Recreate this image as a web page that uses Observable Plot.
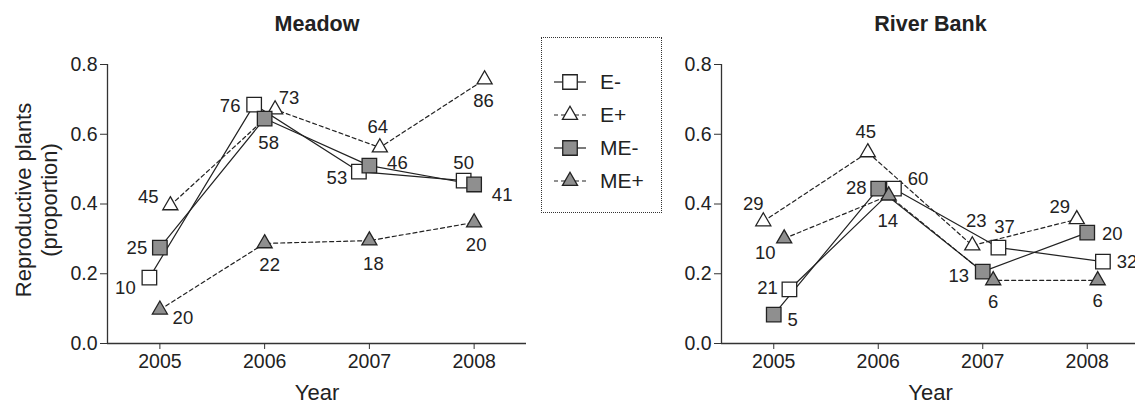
<!DOCTYPE html>
<html><head><meta charset="utf-8">
<script src="https://cdn.jsdelivr.net/npm/d3@7"></script>
<script src="https://cdn.jsdelivr.net/npm/@observablehq/plot@0.6"></script>
<style>
html,body{margin:0;padding:0;background:#fff;overflow:hidden;width:1135px;height:404px}
#wrap{position:relative;width:1135px;height:404px;font-family:"Liberation Sans",Arial,Helvetica,sans-serif;color:#222}
#wrap > svg{position:absolute;top:0;margin:0;max-width:none}
#legend{position:absolute;left:541px;top:37px;width:119px;height:174px;border:1.5px dotted #333;box-sizing:content-box}
.lrow{position:absolute;left:12px;height:24px;display:flex;align-items:center;font-size:21px}
.lrow svg{margin-right:14px}
</style></head><body><div id="wrap"><div id="legend"></div></div>
<script>
// ---- data ----
const years = [2005, 2006, 2007, 2008];
const series = ["E-", "E+", "ME-", "ME+"];
const yTicks = [0, 0.2, 0.4, 0.6, 0.8];
const xDomain = [2004.5, 2008.5];

// Meadow proportions
const meadowEminus  = [0.189, 0.685, 0.493, 0.467];
const meadowEplus   = [0.396, 0.671, 0.562, 0.757];
const meadowMEminus = [0.275, 0.645, 0.510, 0.456];
const meadowMEplus  = [0.097, 0.287, 0.295, 0.347];
// Meadow sample sizes (labels)
const meadowNEminus  = [10, 76, 53, 50];
const meadowNEplus   = [45, 73, 64, 86];
const meadowNMEminus = [25, 58, 46, 41];
const meadowNMEplus  = [20, 22, 18, 20];

// River Bank proportions
const riverEminus  = [0.155, 0.444, 0.275, 0.235];
const riverEplus   = [0.350, 0.548, 0.281, 0.356];
const riverMEminus = [0.083, 0.444, 0.206, 0.318];
const riverMEplus  = [0.301, 0.424, 0.181, 0.181];
// River Bank sample sizes (labels)
const riverNEminus  = [21, 60, 37, 32];
const riverNEplus   = [29, 45, 23, 29];
const riverNMEminus = [5, 28, 13, 20];
const riverNMEplus  = [10, 14, 6, 6];

// ---- layout / style (not data) ----
const meadowJitter = {"E-": -0.1, "E+": 0.1, "ME-": 0, "ME+": 0};
const riverJitter  = {"E-": 0.15, "E+": -0.1, "ME-": 0, "ME+": 0.1};
const meadowLabelOffsets = {
  "E-":  [[-24, 10], [-24, 1], [-22, 7], [0, -18]],
  "E+":  [[-22, -8], [14, -11], [-2, -20], [-1, 22]],
  "ME-": [[-23, 0], [4, 25], [28, -3], [28, 11]],
  "ME+": [[23, 8], [5, 22], [4, 23], [2, 23]]
};
const riverLabelOffsets = {
  "E-":  [[-22, -1], [24, -10], [6, -21], [24, 1]],
  "E+":  [[-10, -17], [-2, -20], [4, -24], [-17, -12]],
  "ME-": [[19, 6], [-22, -1], [-24, 4], [25, 1]],
  "ME+": [[-19, 15], [-1, 25], [0, 22], [0, 21]]
};
const styles = {
  "E-":  {symbol: "square",   fill: "#ffffff", dash: null},
  "E+":  {symbol: "triangle", fill: "#ffffff", dash: "4,3"},
  "ME-": {symbol: "square",   fill: "#8f8f8f", dash: null},
  "ME+": {symbol: "triangle", fill: "#8f8f8f", dash: "4,3"}
};
const FONT = '"Liberation Sans", Arial, Helvetica, sans-serif';
const INK = "#222";

function buildRows(vals, ns, jitter) {
  const rows = [];
  series.forEach((s, si) => {
    years.forEach((yr, i) => {
      rows.push({series: s, year: yr, x: yr + jitter[s], v: vals[si][i], n: ns[si][i], i});
    });
  });
  return rows;
}

function panel({title, rows, offsets, width, marginLeft, marginRight, yLabel}) {
  const marks = [];
  // axes
  marks.push(Plot.ruleY([0], {stroke: "#333", strokeWidth: 1.3}));
  marks.push(Plot.ruleX([xDomain[0]], {y1: yTicks[0], y2: yTicks[yTicks.length - 1], stroke: "#333", strokeWidth: 1.3}));
  marks.push(Plot.axisY({ticks: yTicks, tickFormat: d3.format(".1f"), tickSize: 7, tickPadding: 3, label: null, fontSize: 19.5, stroke: "#333"}));
  marks.push(Plot.axisX({ticks: years, tickFormat: d => String(d), tickSize: 6, tickPadding: 5, label: null, fontSize: 19.5, stroke: "#333"}));
  // lines
  for (const s of series) {
    marks.push(Plot.line(rows.filter(d => d.series === s), {
      x: "x", y: "v", stroke: INK, strokeWidth: 1.2,
      strokeDasharray: styles[s].dash || undefined
    }));
  }
  // markers
  for (const s of series) {
    const st = styles[s];
    marks.push(Plot.dot(rows.filter(d => d.series === s), {
      x: "x", y: "v", symbol: st.symbol, r: st.symbol === "square" ? 8.2 : 5.6,
      fill: st.fill, stroke: INK, strokeWidth: 1.3
    }));
  }
  // value labels
  for (const d of rows) {
    const [dx, dy] = offsets[d.series][d.i];
    marks.push(Plot.text([d], {x: "x", y: "v", text: "n", dx, dy, fontSize: 18.5, fill: INK,
      textAnchor: "middle", lineAnchor: "middle"}));
  }
  // titles
  marks.push(Plot.text([title], {frameAnchor: "top", lineAnchor: "middle", dy: -40, fontSize: 21.5, fontWeight: "bold", fill: INK}));
  marks.push(Plot.text(["Year"], {frameAnchor: "bottom", lineAnchor: "middle", dy: 49, fontSize: 22, fill: INK}));
  if (yLabel) {
    marks.push(Plot.text([yLabel], {frameAnchor: "left", rotate: -90, dx: -72, dy: -4,
      textAnchor: "middle", lineAnchor: "middle", fontSize: 22, lineHeight: 1.18, fill: INK}));
  }
  return Plot.plot({
    width, height: 404,
    marginLeft, marginRight, marginTop: 64, marginBottom: 61,
    x: {domain: xDomain},
    y: {domain: [yTicks[0], yTicks[yTicks.length - 1]]},
    style: {fontFamily: FONT, fontSize: "18px", color: INK, background: "transparent", overflow: "visible"},
    marks
  });
}

const wrap = document.getElementById("wrap");

const left = panel({
  title: "Meadow",
  rows: buildRows([meadowEminus, meadowEplus, meadowMEminus, meadowMEplus],
                  [meadowNEminus, meadowNEplus, meadowNMEminus, meadowNMEplus], meadowJitter),
  offsets: meadowLabelOffsets,
  width: 540, marginLeft: 107, marginRight: 14,
  yLabel: "Reproductive plants\n(proportion)"
});
left.style.left = "0px";
wrap.appendChild(left);

const right = panel({
  title: "River Bank",
  rows: buildRows([riverEminus, riverEplus, riverMEminus, riverMEplus],
                  [riverNEminus, riverNEplus, riverNMEminus, riverNMEplus], riverJitter),
  offsets: riverLabelOffsets,
  width: 539, marginLeft: 121, marginRight: 0,
  yLabel: null
});
right.style.left = "600px";
wrap.appendChild(right);

// legend
const legend = document.getElementById("legend");
series.forEach((s, k) => {
  const st = styles[s];
  const row = document.createElement("div");
  row.className = "lrow";
  row.style.top = (44 + k * 33 - 12) + "px";
  const ns = "http://www.w3.org/2000/svg";
  const svg = document.createElementNS(ns, "svg");
  svg.setAttribute("width", 32); svg.setAttribute("height", 24);
  const line = document.createElementNS(ns, "line");
  line.setAttribute("x1", 0); line.setAttribute("x2", 32);
  line.setAttribute("y1", 12); line.setAttribute("y2", 12);
  line.setAttribute("stroke", INK); line.setAttribute("stroke-width", 1.2);
  if (st.dash) line.setAttribute("stroke-dasharray", st.dash);
  svg.appendChild(line);
  const p = document.createElementNS(ns, "path");
  const sym = st.symbol === "square" ? d3.symbolSquare : d3.symbolTriangle;
  const r = st.symbol === "square" ? 8.2 : 5.6;
  p.setAttribute("d", d3.symbol(sym, Math.PI * r * r)());
  p.setAttribute("transform", "translate(16,12)");
  p.setAttribute("fill", st.fill); p.setAttribute("stroke", INK); p.setAttribute("stroke-width", 1.3);
  svg.appendChild(p);
  row.appendChild(svg);
  const t = document.createElement("span");
  t.textContent = s;
  row.appendChild(t);
  legend.appendChild(row);
});
</script>
</body></html>
